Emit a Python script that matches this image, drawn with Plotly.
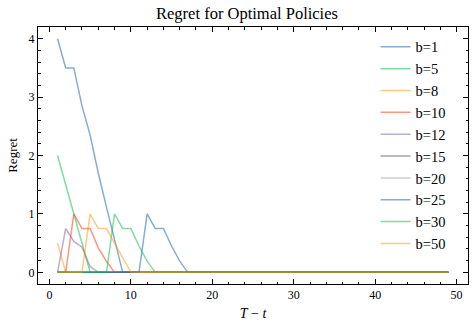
import plotly.graph_objects as go

# Horizon remaining, T - t
horizon = list(range(1, 50))

# Leading regret values per budget; the rest of each series is zero
budgets = ["b=1", "b=5", "b=8", "b=10", "b=12", "b=15", "b=20", "b=25", "b=30", "b=50"]
regret_b1 = [4.0, 3.5, 3.5, 2.85, 2.35, 1.7, 1.12, 0.56, 0.0]
regret_b5 = [2.0, 1.5, 1.0, 0.5, 0.0]
regret_b8 = [0.5, 0.0]
regret_b10 = [0.0, 0.0, 1.0, 0.75, 0.75, 0.42, 0.19, 0.0]
regret_b12 = [0.0, 0.75, 0.53, 0.43, 0.1, 0.0]
regret_b15 = [0.0]
regret_b20 = [0.0]
regret_b25 = [0.0] * 11 + [1.0, 0.75, 0.75, 0.45, 0.19, 0.0]
regret_b30 = [0.0] * 7 + [1.0, 0.75, 0.75, 0.45, 0.19, 0.0]
regret_b50 = [0.0] * 4 + [1.0, 0.75, 0.75, 0.5, 0.25, 0.0]

heads = [regret_b1, regret_b5, regret_b8, regret_b10, regret_b12,
         regret_b15, regret_b20, regret_b25, regret_b30, regret_b50]

# SciencePlots colour cycle drawn at alpha 0.5
CYCLE = ["12,93,165", "0,185,69", "255,149,0", "255,44,0", "132,91,151", "71,71,71", "158,158,158"]
SERIF = "Liberation Serif, Times New Roman, serif"

fig = go.Figure()
for i, (name, head) in enumerate(zip(budgets, heads)):
    values = head + [0.0] * (len(horizon) - len(head))
    fig.add_trace(go.Scatter(
        x=horizon,
        y=values,
        mode="lines",
        name=name,
        legendgroup=name,
        line=dict(color=f"rgba({CYCLE[i % len(CYCLE)]},0.5)", width=1.5),
    ))

axis_common = dict(
    showline=True,
    linecolor="black",
    linewidth=1,
    mirror="allticks",
    ticks="inside",
    ticklen=5,
    tickwidth=0.8,
    tickcolor="black",
    showgrid=False,
    zeroline=False,
    automargin=False,
    tickfont=dict(family=SERIF, size=12, color="black"),
)

fig.update_xaxes(
    range=[-1.4, 51.4],
    dtick=10,
    minor=dict(dtick=2, ticks="inside", ticklen=2.5, tickwidth=0.6, tickcolor="black"),
    title=dict(text="<i>T</i> − <i>t</i>", font=dict(family=SERIF, size=14, color="black"), standoff=6),
    **axis_common,
)
fig.update_yaxes(
    range=[-0.2, 4.2],
    dtick=1,
    minor=dict(dtick=0.2, ticks="inside", ticklen=2.5, tickwidth=0.6, tickcolor="black"),
    title=dict(text="Regret", font=dict(family=SERIF, size=13, color="black"), standoff=8),
    **axis_common,
)

fig.update_layout(
    width=475,
    height=329,
    margin=dict(l=38, r=7, t=27, b=45),
    paper_bgcolor="white",
    plot_bgcolor="white",
    title=dict(text="Regret for Optimal Policies", x=0.52, xanchor="center", y=0.96, yanchor="middle",
               font=dict(family=SERIF, size=16.5, color="black")),
    legend=dict(
        x=0.785, xanchor="left", y=0.985, yanchor="top",
        bgcolor="rgba(0,0,0,0)",
        font=dict(family=SERIF, size=14.5, color="black"),
        tracegroupgap=0,
        itemwidth=30,
    ),
)

# drop the browser's default body margin so the figure sits at the window origin
fig.write_html(
    "out.html",
    config={"displayModeBar": False},
    post_script="document.body.style.margin = '0';",
)
